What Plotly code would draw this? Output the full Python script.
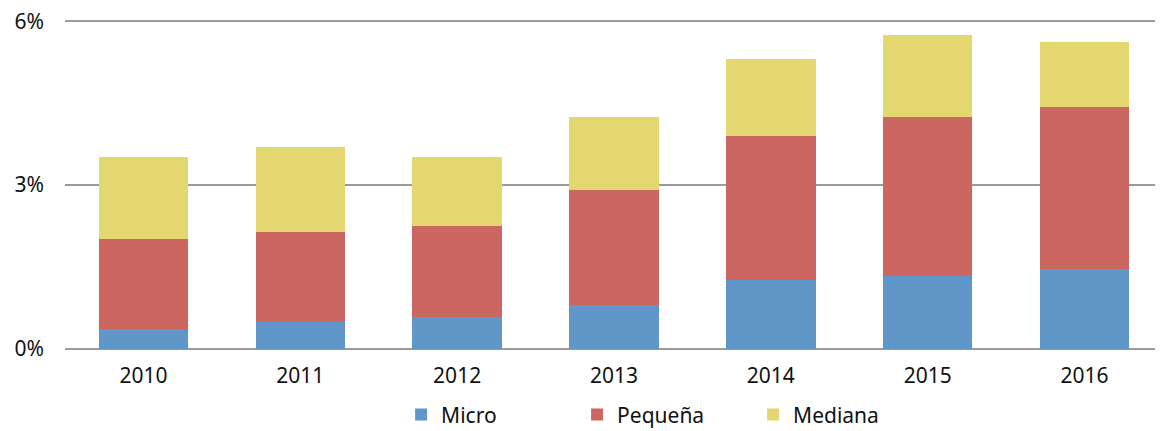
import plotly.graph_objects as go

years = ["2010", "2011", "2012", "2013", "2014", "2015", "2016"]
micro = [0.36, 0.50, 0.58, 0.81, 1.27, 1.34, 1.47]
pequena = [1.66, 1.65, 1.68, 2.10, 2.63, 2.90, 2.96]
mediana = [1.50, 1.55, 1.26, 1.34, 1.41, 1.50, 1.19]
y_ticks = [0, 3, 6]
y_labels = ["0%", "3%", "6%"]

series = [
    ("Micro", micro, "#6096C8"),
    ("Pequeña", pequena, "#CC6660"),
    ("Mediana", mediana, "#E4D76F"),
]

fig = go.Figure()
for name, vals, col in series:
    fig.add_trace(
        go.Bar(
            x=years,
            y=vals,
            name=name,
            marker=dict(color=col, line=dict(width=0)),
        )
    )

# page body has an 8px margin, so the margins are shifted by that much
fig.update_layout(
    barmode="stack",
    bargap=0.43,
    width=1163,
    height=431,
    margin=dict(l=57, r=8, t=10, b=89.5, autoexpand=False),
    plot_bgcolor="white",
    paper_bgcolor="white",
    font=dict(family="Noto Sans", size=21, color="#111111"),
    legend=dict(
        orientation="h",
        traceorder="normal",
        yref="container",
        xref="container",
        x=0.338,
        xanchor="left",
        y=0.056,
        yanchor="middle",
        font=dict(size=21),
        entrywidth=131,
        itemwidth=30,
    ),
    xaxis=dict(showgrid=False, ticks="", showline=False, automargin=False,
               ticklabelstandoff=12),
    yaxis=dict(
        range=[0, 6.06],
        tickvals=y_ticks,
        ticktext=y_labels,
        showgrid=True,
        gridcolor="#9A9A9A",
        gridwidth=2,
        zeroline=True,
        zerolinecolor="#9A9A9A",
        zerolinewidth=2,
        ticklabelstandoff=20,
        ticklabeloverflow="allow",
        automargin=False,
    ),
)

fig.write_html("out.html")
